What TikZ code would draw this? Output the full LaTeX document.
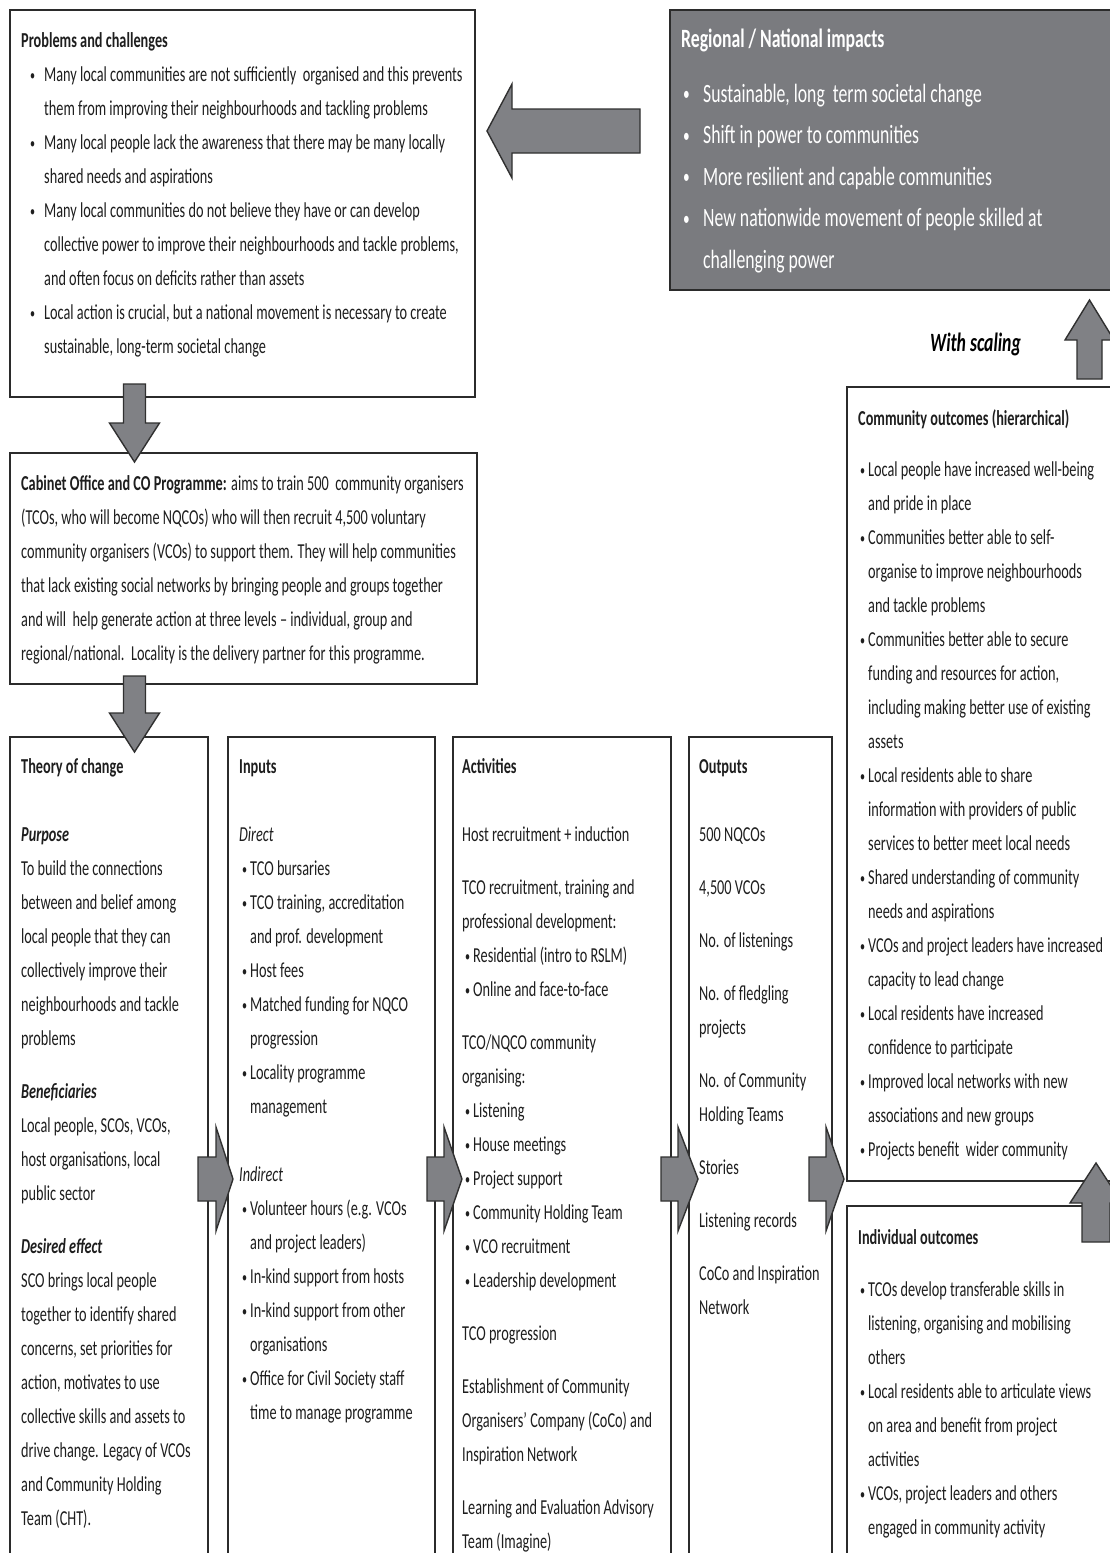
\documentclass[tikz,border=0pt]{standalone}
\usepackage{fontspec}
\setmainfont{Carlito}[FakeStretch=0.67]
\definecolor{boxline}{HTML}{2B2B2B}
\definecolor{arrfill}{HTML}{808185}
\definecolor{arrline}{HTML}{303030}
\definecolor{grayfill}{HTML}{7A7B7F}
\definecolor{textcol}{HTML}{1E1E1E}
\newcommand\fs{\spaceskip=0pt\xspaceskip=0pt\rule{0pt}{20pt}}
\newcommand\fsb{\spaceskip=0pt\xspaceskip=0pt\rule{0pt}{24pt}}
\newcommand\smbul{\raisebox{1.2pt}{\fontsize{15}{15}\selectfont\textbullet}}
\newcommand\bl[2]{\makebox[#2][l]{\hspace*{#1}\smbul}}
\newcommand\blb[2]{\makebox[#2][l]{\hspace*{#1}\raisebox{1.5pt}{\fontsize{20}{20}\selectfont\textbullet}}}
\newcommand\ind[1]{\hspace*{#1}}
\hyphenpenalty=10000
\exhyphenpenalty=10000
\begin{document}
\begin{tikzpicture}[x=1pt,y=-1pt,
  box/.style={draw=boxline,line width=1.4pt,fill=white},
  blk/.style={draw=arrline,line width=1.4pt,fill=arrfill,line join=miter},
  txt/.style={anchor=north west,inner sep=0pt,text width=700pt,text=textcol,
    font=\fontsize{21.3}{34}\selectfont},
  big/.style={anchor=north west,inner sep=0pt,text width=700pt,text=white,
    font=\fontsize{26.4}{41.5}\selectfont}]
\useasboundingbox (0,0) rectangle (1110,1553);
\clip (0,0) rectangle (1110,1553);
\fill[white] (0,0) rectangle (1110,1553);

% ---------- boxes ----------
\draw[box] (10,10) rectangle (475,397);
\draw[box,fill=grayfill] (670,10) rectangle (1125,290);
\draw[box] (10,453) rectangle (477,684);
\draw[box] (10,737) rectangle (208,1570);
\draw[box] (228,737) rectangle (435,1570);
\draw[box] (453,737) rectangle (671,1570);
\draw[box] (689,737) rectangle (832,1570);
\draw[box] (847,387) rectangle (1125,1181);
\draw[box] (847,1206) rectangle (1125,1570);

% ---------- texts ----------
\node[txt] (probs) at (21,27) {\fs\textbf{Problems and challenges}\\
\bl{9pt}{23pt}Many local communities are not sufficiently\ \ organised and this prevents\\
\ind{23pt}them from improving their neighbourhoods and tackling problems\\
\bl{9pt}{23pt}Many local people lack the awareness that there may be many locally\\
\ind{23pt}shared needs and aspirations\\
\bl{9pt}{23pt}Many local communities do not believe they have or can develop\\
\ind{23pt}collective power to improve their neighbourhoods and tackle problems,\\
\ind{23pt}and often focus on deficits rather than assets\\
\bl{9pt}{23pt}Local action is crucial, but a national movement is necessary to create\\
\ind{23pt}sustainable, long-term societal change};

\node[big] (impacts) at (681,23) {\fsb\textbf{Regional / National impacts}\\[13.5pt]
\blb{2pt}{22pt}Sustainable, long\ \ term societal change\\
\blb{2pt}{22pt}Shift in power to communities\\
\blb{2pt}{22pt}More resilient and capable communities\\
\blb{2pt}{22pt}New nationwide movement of people skilled at\\
\ind{22pt}challenging power};

\node[txt] (cabinet) at (21,470) {\fs\textbf{Cabinet Office and CO Programme:} aims to train 500\ \ community organisers\\
(TCOs, who will become NQCOs) who will then recruit 4,500 voluntary\\
community organisers (VCOs) to support them. They will help communities\\
that lack existing social networks by bringing people and groups together\\
and will\ \ help generate action at three levels -- individual, group and\\
regional/national.\ \ Locality is the delivery partner for this programme.};

\node[txt] (theory) at (21,753) {\fs\textbf{Theory of change}\\[34pt]
\textbf{\textit{Purpose}}\\
To build the connections\\
between and belief among\\
local people that they can\\
collectively improve their\\
neighbourhoods and tackle\\
problems\\[19pt]
\textbf{\textit{Beneficiaries}}\\
Local people, SCOs, VCOs,\\
host organisations, local\\
public sector\\[19pt]
\textbf{\textit{Desired effect}}\\
SCO brings local people\\
together to identify shared\\
concerns, set priorities for\\
action, motivates to use\\
collective skills and assets to\\
drive change. Legacy of VCOs\\
and Community Holding\\
Team (CHT).};

\node[txt] (inputs) at (239,753) {\fs\textbf{Inputs}\\[34pt]
\textit{Direct}\\
\bl{3pt}{11pt}TCO bursaries\\
\bl{3pt}{11pt}TCO training, accreditation\\
\ind{11pt}and prof. development\\
\bl{3pt}{11pt}Host fees\\
\bl{3pt}{11pt}Matched funding for NQCO\\
\ind{11pt}progression\\
\bl{3pt}{11pt}Locality programme\\
\ind{11pt}management\\[34pt]
\textit{Indirect}\\
\bl{3pt}{11pt}Volunteer hours (e.g. VCOs\\
\ind{11pt}and project leaders)\\
\bl{3pt}{11pt}In-kind support from hosts\\
\bl{3pt}{11pt}In-kind support from other\\
\ind{11pt}organisations\\
\bl{3pt}{11pt}Office for Civil Society staff\\
\ind{11pt}time to manage programme};

\node[txt] (activities) at (462,753) {\fs\textbf{Activities}\\[34pt]
Host recruitment + induction\\[19pt]
TCO recruitment, training and\\
professional development:\\
\bl{3pt}{11pt}Residential (intro to RSLM)\\
\bl{3pt}{11pt}Online and face-to-face\\[19pt]
TCO/NQCO community\\
organising:\\
\bl{3pt}{11pt}Listening\\
\bl{3pt}{11pt}House meetings\\
\bl{3pt}{11pt}Project support\\
\bl{3pt}{11pt}Community Holding Team\\
\bl{3pt}{11pt}VCO recruitment\\
\bl{3pt}{11pt}Leadership development\\[19pt]
TCO progression\\[19pt]
Establishment of Community\\
Organisers' Company (CoCo) and\\
Inspiration Network\\[19pt]
Learning and Evaluation Advisory\\
Team (Imagine)};

\node[txt] (outputs) at (699,753) {\fs\textbf{Outputs}\\[34pt]
500 NQCOs\\[19pt]
4,500 VCOs\\[19pt]
No. of listenings\\[19pt]
No. of fledgling\\
projects\\[19pt]
No. of Community\\
Holding Teams\\[19pt]
Stories\\[19pt]
Listening records\\[19pt]
CoCo and Inspiration\\
Network};

\node[txt] (community) at (858,405) {\fs\textbf{Community outcomes (hierarchical)}\\[17pt]
\bl{2pt}{10pt}Local people have increased well-being\\
\ind{10pt}and pride in place\\
\bl{2pt}{10pt}Communities better able to self-\\
\ind{10pt}organise to improve neighbourhoods\\
\ind{10pt}and tackle problems\\
\bl{2pt}{10pt}Communities better able to secure\\
\ind{10pt}funding and resources for action,\\
\ind{10pt}including making better use of existing\\
\ind{10pt}assets\\
\bl{2pt}{10pt}Local residents able to share\\
\ind{10pt}information with providers of public\\
\ind{10pt}services to better meet local needs\\
\bl{2pt}{10pt}Shared understanding of community\\
\ind{10pt}needs and aspirations\\
\bl{2pt}{10pt}VCOs and project leaders have increased\\
\ind{10pt}capacity to lead change\\
\bl{2pt}{10pt}Local residents have increased\\
\ind{10pt}confidence to participate\\
\bl{2pt}{10pt}Improved local networks with new\\
\ind{10pt}associations and new groups\\
\bl{2pt}{10pt}Projects benefit\ \ wider community};

\node[txt] (individual) at (858,1224) {\fs\textbf{Individual outcomes}\\[18pt]
\bl{2pt}{10pt}TCOs develop transferable skills in\\
\ind{10pt}listening, organising and mobilising\\
\ind{10pt}others\\
\bl{2pt}{10pt}Local residents able to articulate views\\
\ind{10pt}on area and benefit from project\\
\ind{10pt}activities\\
\bl{2pt}{10pt}VCOs, project leaders and others\\
\ind{10pt}engaged in community activity};

\node[anchor=base west,inner sep=0pt,text=black,
  font=\fontsize{26.4}{41.5}\selectfont\bfseries\itshape] (scaling) at (930,351) {With scaling};

% ---------- block arrows ----------
% impacts -> problems (left)
\draw[blk] (640,109) -- (512,109) -- (512,84) -- (487,131) -- (512,178) -- (512,153) -- (640,153) -- cycle;
% problems -> cabinet (down)
\draw[blk] (123.5,384) -- (145.5,384) -- (145.5,423) -- (159.5,423) -- (134.5,462) -- (109.5,423) -- (123.5,423) -- cycle;
% cabinet -> columns (down)
\draw[blk] (123.5,676) -- (145.5,676) -- (145.5,713) -- (159.5,713) -- (134.5,752) -- (109.5,713) -- (123.5,713) -- cycle;
% right arrows between columns
\foreach \a/\b/\c in {198/216/233, 427/444/462, 661/678/698, 809/826/844}{
  \draw[blk] (\a,1157) -- (\b,1157) -- (\b,1127) -- (\c,1179) -- (\b,1231) -- (\b,1201) -- (\a,1201) -- cycle;
}
% community -> impacts (up, with scaling)
\draw[blk] (1077,379) -- (1077,340) -- (1065,340) -- (1089.5,300) -- (1114,340) -- (1102,340) -- (1102,379) -- cycle;
% individual -> community (up)
\draw[blk] (1082,1242) -- (1082,1203) -- (1070,1203) -- (1096,1163) -- (1122,1203) -- (1110,1203) -- (1110,1242) -- cycle;
\end{tikzpicture}
\end{document}
